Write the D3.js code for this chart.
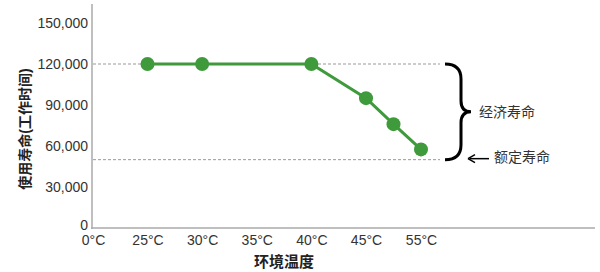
<!DOCTYPE html>
<html>
<head>
<meta charset="utf-8">
<script src="https://cdn.jsdelivr.net/npm/d3@7"></script>
<style>
  body { margin: 0; background: #fff; }
  svg text { font-family: "Liberation Sans", Arial, "Noto Sans CJK SC", sans-serif; }
</style>
</head>
<body>
<svg></svg>
<script>
// data
const temps = [25, 30, 40, 45, 50, 55];
const lifeHours = [120000, 120000, 120000, 95000, 76000, 57500];
const xTicks = [0, 25, 30, 35, 40, 45, 55];
const yTicks = [0, 30000, 60000, 90000, 120000, 150000];
const economicLife = 120000;
const ratedLife = 50000;

const svg = d3.select("svg").attr("width", 600).attr("height", 272);

// x is uneven: 0 -> 25 is one step, 45 -> 55 is one step
const x = d3.scaleLinear()
  .domain([0, 25, 45, 55])
  .range([93, 147.5, 366, 421]);
const y = d3.scaleLinear().domain([0, 150000]).range([228, 23]);

const fmt = d3.format(",");

// y axis
const yAxis = svg.append("g")
  .attr("transform", "translate(92,0)")
  .call(d3.axisLeft(y).tickValues(yTicks).tickSize(0).tickPadding(4).tickFormat(fmt));
yAxis.select(".domain").remove();
yAxis.selectAll("text").attr("font-size", 14).attr("fill", "#333");
yAxis.selectAll(".tick").filter(d => d === 0).select("text").attr("dy", "0.1em");
svg.append("line")
  .attr("x1", 92).attr("x2", 92).attr("y1", 4).attr("y2", 229)
  .attr("stroke", "#aaa").attr("stroke-width", 1.5);

// x axis
const xAxis = svg.append("g")
  .attr("transform", "translate(0,228)")
  .call(d3.axisBottom(x).tickValues(xTicks).tickSize(0).tickPadding(7).tickFormat(d => d + "°C"));
xAxis.select(".domain").remove();
xAxis.selectAll("text").attr("font-size", 14).attr("fill", "#333");
svg.append("line")
  .attr("x1", 91).attr("x2", 595).attr("y1", 228).attr("y2", 228)
  .attr("stroke", "#aaa").attr("stroke-width", 1.5);

// reference dashed lines
svg.selectAll("line.ref")
  .data([economicLife, ratedLife])
  .enter()
  .append("line")
  .attr("class", "ref")
  .attr("x1", 93).attr("x2", 440)
  .attr("y1", d => y(d)).attr("y2", d => y(d))
  .attr("stroke", "#999").attr("stroke-width", 1)
  .attr("stroke-dasharray", "3,2");

// line + points
const points = temps.map((t, i) => [t, lifeHours[i]]);
const lineGenerator = d3.line()
  .x(d => x(d[0]))
  .y(d => y(d[1]));

svg.append("path")
  .datum(points)
  .attr("d", lineGenerator)
  .attr("fill", "none")
  .attr("stroke", "#3e9a3a")
  .attr("stroke-width", 3);

svg.selectAll("circle.pt")
  .data(points)
  .enter()
  .append("circle")
  .attr("class", "pt")
  .attr("cx", d => x(d[0]))
  .attr("cy", d => y(d[1]))
  .attr("r", 7)
  .attr("fill", "#3e9a3a");

// brace between the two reference lines
const yTop = y(economicLife), yBot = y(ratedLife), yMid = (yTop + yBot) / 2;
svg.append("path")
  .attr("d", `M445,${yTop} Q461,${yTop} 461,${yTop + 15} L461,${yMid - 11} Q461,${yMid} 471,${yMid}
              Q461,${yMid} 461,${yMid + 11} L461,${yBot - 15} Q461,${yBot} 445,${yBot}`)
  .attr("fill", "none")
  .attr("stroke", "#000")
  .attr("stroke-width", 3);

svg.append("text")
  .attr("x", 479).attr("y", yMid + 5)
  .attr("font-size", 14).attr("fill", "#333")
  .text("经济寿命");

// arrow for rated life
svg.append("line")
  .attr("x1", 470).attr("x2", 489).attr("y1", yBot - 1).attr("y2", yBot - 1)
  .attr("stroke", "#000").attr("stroke-width", 1.5);
svg.append("path")
  .attr("d", `M468,${yBot - 1} L475,${yBot - 5} M468,${yBot - 1} L475,${yBot + 3}`)
  .attr("stroke", "#000").attr("stroke-width", 1.5).attr("fill", "none");
svg.append("text")
  .attr("x", 494).attr("y", yBot + 2)
  .attr("font-size", 14).attr("fill", "#333")
  .text("额定寿命");

// axis titles
svg.append("text")
  .attr("transform", "translate(30,129) rotate(-90)")
  .attr("text-anchor", "middle")
  .attr("font-size", 14).attr("font-weight", "bold").attr("fill", "#222")
  .text("使用寿命(工作时间)");

svg.append("text")
  .attr("x", 284).attr("y", 267)
  .attr("text-anchor", "middle")
  .attr("font-size", 15).attr("font-weight", "bold").attr("fill", "#222")
  .text("环境温度");
</script>
</body>
</html>
